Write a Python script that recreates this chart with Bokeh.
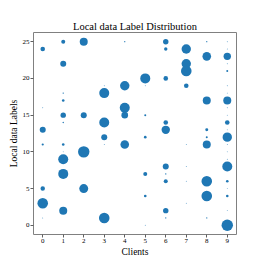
import numpy as np
from bokeh.plotting import figure
from bokeh.models import ColumnDataSource, FixedTicker, Range1d
from bokeh.embed import file_html
from bokeh.resources import INLINE

clients = list(range(10))
y_ticks = [0, 5, 10, 15, 20, 25]

# labels present per client and their sample counts (bubble area ~ count)
labels_by_client = [
    [24, 16, 13, 11, 5, 3, 1],
    [25, 22, 18, 17, 15, 14, 11, 10, 9, 7, 2],
    [25, 15, 10, 5],
    [19, 18, 14, 12, 11, 1],
    [25, 19, 16, 15, 11],
    [20, 19, 15, 12, 7, 4, 0],
    [25, 24, 20, 14, 13, 8, 7, 6, 2, 1],
    [24, 22, 21, 19, 11, 8, 6, 3],
    [25, 23, 17, 13, 12, 11, 6, 4, 1],
    [25, 24, 23, 22, 21, 19, 18, 17, 16, 15, 14, 13, 12, 11, 10, 9, 8, 6, 5, 4, 2, 0],
]
counts_by_client = [
    [53, 2, 90, 12, 50, 280, 2],
    [40, 90, 5, 17, 73, 5, 17, 2, 250, 250, 160],
    [160, 90, 325, 200],
    [2, 250, 250, 90, 2, 280],
    [4, 220, 250, 110, 185],
    [250, 2, 10, 17, 40, 17, 2],
    [73, 29, 53, 53, 175, 90, 5, 40, 73, 4],
    [220, 220, 280, 53, 2, 2, 2, 2],
    [4, 185, 160, 22, 10, 160, 280, 280, 4],
    [2, 2, 137, 2, 10, 2, 2, 160, 2, 2, 53, 2, 220, 2, 2, 2, 250, 17, 2, 17, 2, 325],
]

xs, ys, cs = [], [], []
for c, labs, cnts in zip(clients, labels_by_client, counts_by_client):
    for l, n in zip(labs, cnts):
        xs.append(c)
        ys.append(l)
        cs.append(n)
cs = np.array(cs, dtype=float)
src = ColumnDataSource(dict(x=xs, y=ys, size=2 * np.sqrt(cs / 10.0)))

p = figure(width=255, height=259, output_backend="svg", toolbar_location=None,
           x_range=Range1d(-0.45, 9.45), y_range=Range1d(-1.25, 26.25),
           title="Local data Label Distribution",
           min_border_left=33, min_border_right=19, min_border_top=32, min_border_bottom=25)

p.scatter("x", "y", size="size", source=src, color="#1f77b4", line_color=None)

serif = "Liberation Serif"
p.title.text_font = serif
p.title.text_font_size = "10.5px"
p.title.text_font_style = "normal"
p.title.text_color = "black"
p.title.align = "center"
p.title.standoff = 2

p.xgrid.visible = False
p.ygrid.visible = False
p.outline_line_color = "#808080"
p.outline_line_width = 1

p.xaxis.ticker = FixedTicker(ticks=clients)
p.yaxis.ticker = FixedTicker(ticks=y_ticks)
p.xaxis.axis_label = "Clients"
p.yaxis.axis_label = "Local data Labels"
for ax in (p.xaxis, p.yaxis):
    ax.axis_label_text_font = serif
    ax.axis_label_text_font_size = "9.5px"
    ax.axis_label_text_font_style = "normal"
    ax.axis_label_text_color = "black"
    ax.axis_label_standoff = 1
    ax.major_label_text_font = serif
    ax.major_label_text_font_size = "7px"
    ax.major_label_text_color = "black"
    ax.major_label_standoff = 1
    ax.major_tick_out = 3
    ax.major_tick_in = 0
    ax.minor_tick_out = 0
    ax.minor_tick_in = 0
    ax.axis_line_color = None
    ax.major_tick_line_color = "#606060"

open("out.html", "w").write(file_html(p, INLINE))
